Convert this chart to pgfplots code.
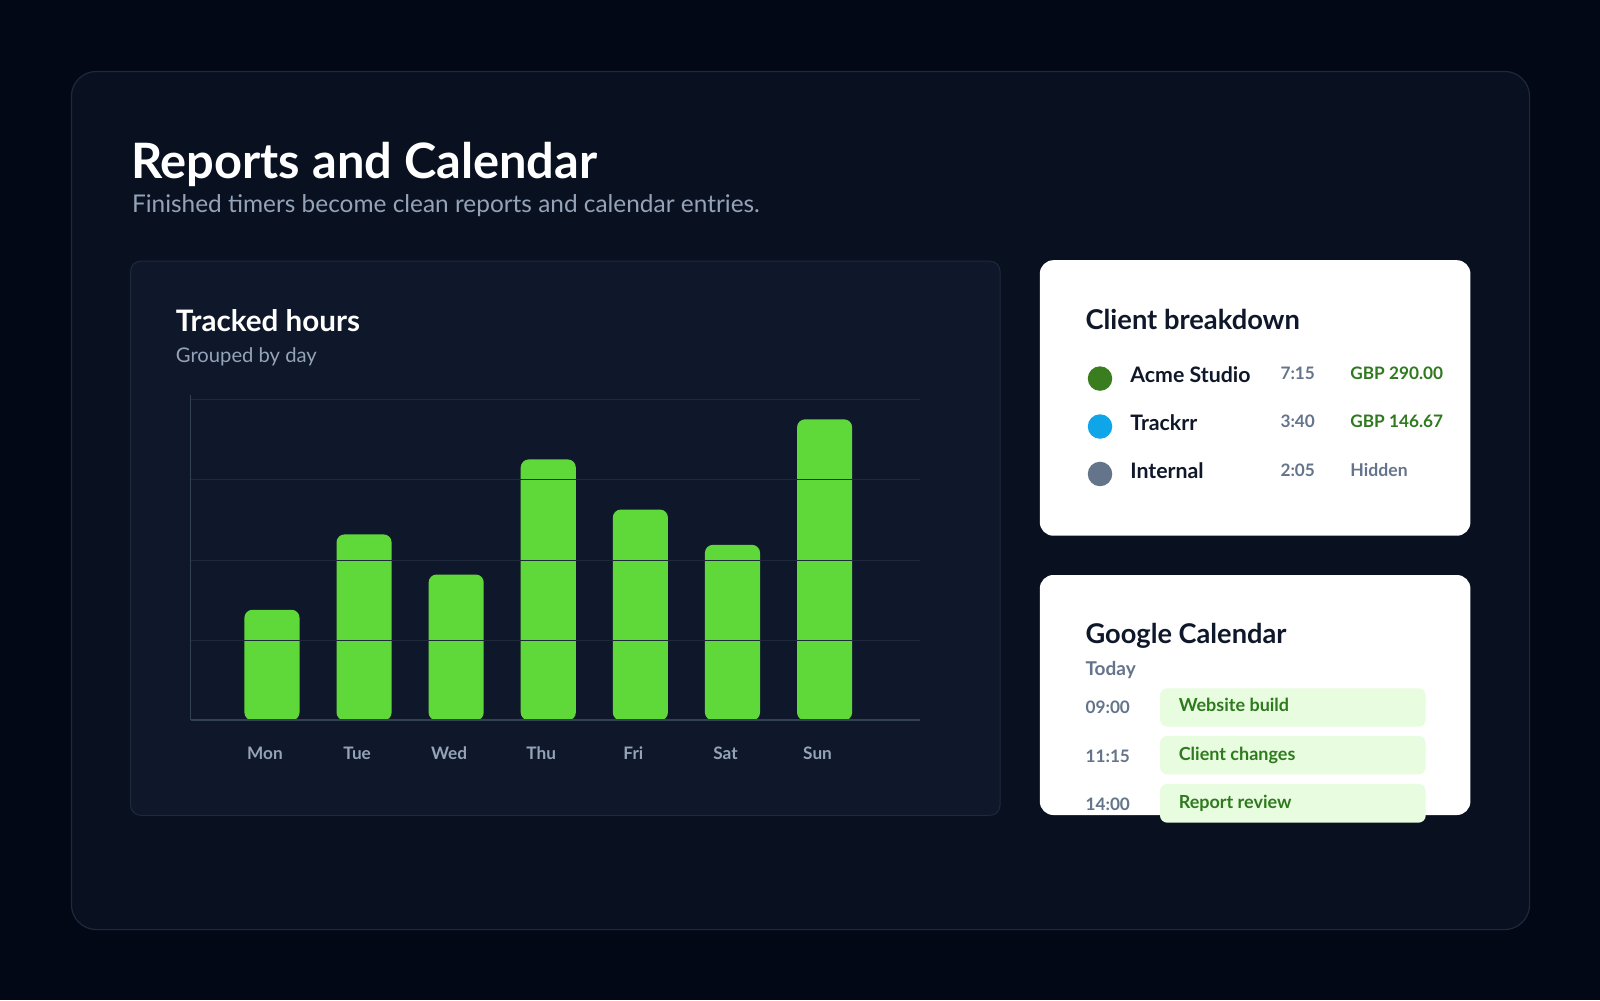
\documentclass[border=0pt]{standalone}
\usepackage{fontspec}
\setmainfont{Lato}
\usepackage{pgfplots}
\pgfplotsset{compat=1.18}
\definecolor{pagebg}{HTML}{030817}
\definecolor{cardbg}{HTML}{091120}
\definecolor{cardline}{HTML}{1E293B}
\definecolor{panelbg}{HTML}{0F172A}
\definecolor{muted}{HTML}{94A3B8}
\definecolor{slate}{HTML}{64748B}
\definecolor{ink}{HTML}{0F172A}
\definecolor{bargreen}{HTML}{5FD83A}
\definecolor{axisline}{HTML}{334155}
\definecolor{gridc}{HTML}{1E293B}
\definecolor{dgreen}{HTML}{3A7D1E}
\definecolor{money}{HTML}{2F7A1F}
\definecolor{sky}{HTML}{0EA5E9}
\definecolor{evbg}{HTML}{E8FCDF}
\newcommand{\fs}[1]{\fontsize{#1}{#1}\selectfont}
\begin{document}
\begin{tikzpicture}
\begin{scope}[x=0.5102pt,y=-0.5102pt]
\fill[pagebg] (0,0) rectangle (1568,980);
\filldraw[fill=cardbg, draw=cardline, line width=0.6pt, rounded corners=12.5pt] (70,70) rectangle (1499,911);
\node[anchor=base west, inner sep=0, text=white, font=\fs{24.4pt}\bfseries] at (128,174.5) {Reports and Calendar};
\node[anchor=base west, inner sep=0, text=muted, font=\fs{12.2pt}] at (129,208.5) {Finished timers become clean reports and calendar entries.};
\filldraw[fill=panelbg, draw=cardline, line width=0.5pt, rounded corners=5pt] (128,256) rectangle (980,799);
\node[anchor=base west, inner sep=0, text=white, font=\fs{14.8pt}\bfseries] at (172,325) {Tracked hours};
\node[anchor=base west, inner sep=0, text=muted, font=\fs{10.1pt}] at (172,355.5) {Grouped by day};
\end{scope}

\begin{axis}[
  at={(95.41pt,-360.20pt)}, anchor=south west,
  scale only axis, width=364.8pt, height=162.76pt,
  xmin=-0.881, xmax=7.041, ymin=0, ymax=4.06,
  axis on top,
  axis x line*=bottom, axis y line*=left,
  x axis line style={draw=axisline, line width=1pt},
  y axis line style={draw=axisline, line width=0.5pt},
  ytick={1,2,3,4}, yticklabels={},
  ymajorgrids, grid style={draw=gridc, line width=0.55pt},
  major tick length=0pt,
  xtick style={draw=none}, ytick style={draw=none},
  xtick=data,
  xticklabels={Mon,Tue,Wed,Thu,Fri,Sat,Sun},
  xticklabel style={text=muted, font=\fs{8.6pt}\bfseries, anchor=center, yshift=-16.3pt, xshift=-3.5pt},
]
\addplot[ybar, bar width=27.55pt, fill=bargreen, draw=none, rounded corners=4pt]
  coordinates {(0,1.38) (1,2.32) (2,1.82) (3,3.255) (4,2.63) (5,2.19) (6,3.755)};
\end{axis}

\begin{scope}[x=0.5102pt,y=-0.5102pt]
\fill[white, rounded corners=6.8pt] (1019,255) rectangle (1441,525);
\node[anchor=base west, inner sep=0, text=ink, font=\fs{13.65pt}\bfseries] at (1063.5,322.7) {Client breakdown};
\fill[dgreen] (1078,371) circle (12);
\fill[sky] (1078,418) circle (12);
\fill[slate] (1078,464.5) circle (12);
\node[anchor=base west, inner sep=0, text=ink, font=\fs{10.65pt}\bfseries] at (1107.4,374.7) {Acme Studio};
\node[anchor=base west, inner sep=0, text=ink, font=\fs{10.65pt}\bfseries] at (1107.4,421.4) {Trackrr};
\node[anchor=base west, inner sep=0, text=ink, font=\fs{10.65pt}\bfseries] at (1107.4,468.8) {Internal};
\node[anchor=base west, inner sep=0, text=slate, font=\fs{8.6pt}\bfseries] at (1254.5,372) {7:15};
\node[anchor=base west, inner sep=0, text=slate, font=\fs{8.6pt}\bfseries] at (1254.5,418.8) {3:40};
\node[anchor=base west, inner sep=0, text=slate, font=\fs{8.6pt}\bfseries] at (1254.5,466.5) {2:05};
\node[anchor=base west, inner sep=0, text=money, font=\fs{8.6pt}\bfseries] at (1323,372) {GBP 290.00};
\node[anchor=base west, inner sep=0, text=money, font=\fs{8.6pt}\bfseries] at (1323,418.8) {GBP 146.67};
\node[anchor=base west, inner sep=0, text=slate, font=\fs{8.8pt}\bfseries] at (1323,466.5) {Hidden};

\fill[white, rounded corners=6.8pt] (1019,563.5) rectangle (1441,798.7);
\node[anchor=base west, inner sep=0, text=ink, font=\fs{13.6pt}\bfseries] at (1063.5,631) {Google Calendar};
\node[anchor=base west, inner sep=0, text=slate, font=\fs{9.5pt}\bfseries] at (1063.5,661.8) {Today};
\node[anchor=base west, inner sep=0, text=slate, font=\fs{8.6pt}\bfseries] at (1063.5,699.7) {09:00};
\node[anchor=base west, inner sep=0, text=slate, font=\fs{8.6pt}\bfseries] at (1063.5,747.4) {11:15};
\node[anchor=base west, inner sep=0, text=slate, font=\fs{8.6pt}\bfseries] at (1063.5,794.5) {14:00};
\fill[evbg, rounded corners=3.6pt] (1136.8,674.6) rectangle (1397.2,712.1);
\fill[evbg, rounded corners=3.6pt] (1136.8,721.3) rectangle (1397.2,758.8);
\fill[evbg, rounded corners=3.6pt] (1136.8,768.3) rectangle (1397.2,806.2);
\node[anchor=base west, inner sep=0, text=money, font=\fs{9pt}\bfseries] at (1154.8,697.4) {Website build};
\node[anchor=base west, inner sep=0, text=money, font=\fs{9pt}\bfseries] at (1154.8,744.8) {Client changes};
\node[anchor=base west, inner sep=0, text=money, font=\fs{9pt}\bfseries] at (1154.8,792.2) {Report review};
\end{scope}
\end{tikzpicture}
\end{document}
